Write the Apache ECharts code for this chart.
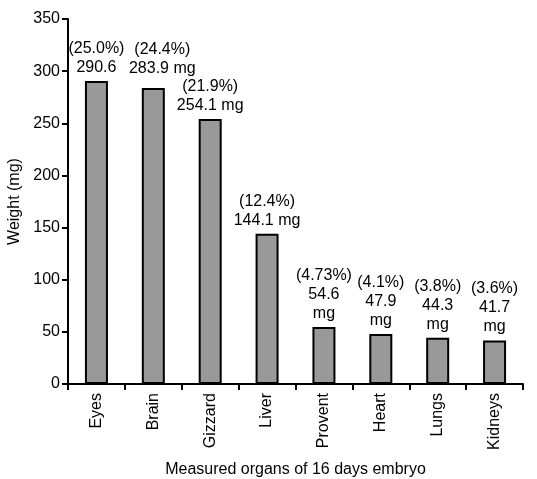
<!DOCTYPE html>
<html><head><meta charset="utf-8">
<script src="https://cdn.jsdelivr.net/npm/echarts@6/dist/echarts.min.js"></script>
<style>html,body{margin:0;padding:0;background:#fff}#c{width:537px;height:479px}</style>
</head><body><div id="c"></div>
<script>
const categories = ['Eyes','Brain','Gizzard','Liver','Provent','Heart','Lungs','Kidneys'];
const weights = [290.6, 283.9, 254.1, 144.1, 54.6, 47.9, 44.3, 41.7];
const percents = ['25.0%','24.4%','21.9%','12.4%','4.73%','4.1%','3.8%','3.6%'];
const labelTexts = ['(25.0%)\n290.6','(24.4%)\n283.9 mg','(21.9%)\n254.1 mg','(12.4%)\n144.1 mg','(4.73%)\n54.6\nmg','(4.1%)\n47.9\nmg','(3.8%)\n44.3\nmg','(3.6%)\n41.7\nmg'];
const yTicks = [0,50,100,150,200,250,300,350];

const font = 'Liberation Sans, Arial, sans-serif';
const labelShift = {1:[9,-6]};
const chart = echarts.init(document.getElementById('c'));
chart.setOption({
  animation:false,
  grid:{left:68,right:14,top:19,bottom:95,outerBoundsMode:'none',containLabel:false},
  xAxis:{
    type:'category', data:categories,
    name:'Measured organs of 16 days embryo', nameLocation:'middle', nameGap:78,
    nameTextStyle:{fontFamily:font,fontSize:16,color:'#000'},
    axisLine:{lineStyle:{color:'#000',width:2}},
    axisTick:{show:true,length:6,lineStyle:{color:'#000',width:2}},
    axisLabel:{rotate:90,fontFamily:font,fontSize:16,color:'#000',margin:9}
  },
  yAxis:{
    type:'value', min:0, max:350, interval:50,
    name:'Weight (mg)', nameLocation:'middle', nameGap:45,
    nameTextStyle:{fontFamily:font,fontSize:16,color:'#000'},
    axisLine:{show:true,lineStyle:{color:'#000',width:2}},
    axisTick:{show:true,length:6,lineStyle:{color:'#000',width:2}},
    axisLabel:{fontFamily:font,fontSize:16,color:'#000',margin:8},
    splitLine:{show:false}
  },
  series:[{
    type:'bar',
    data:weights.map((v,i)=>labelShift[i]?{value:v,label:{offset:labelShift[i]}}:v),
    barWidth:23,
    itemStyle:{color:'#999999',borderColor:'#000',borderWidth:2},
    label:{show:true,position:'top',distance:4,fontFamily:font,fontSize:16,color:'#000',lineHeight:19,
      formatter:p=>labelTexts[p.dataIndex]}
  }]
});
</script></body></html>
